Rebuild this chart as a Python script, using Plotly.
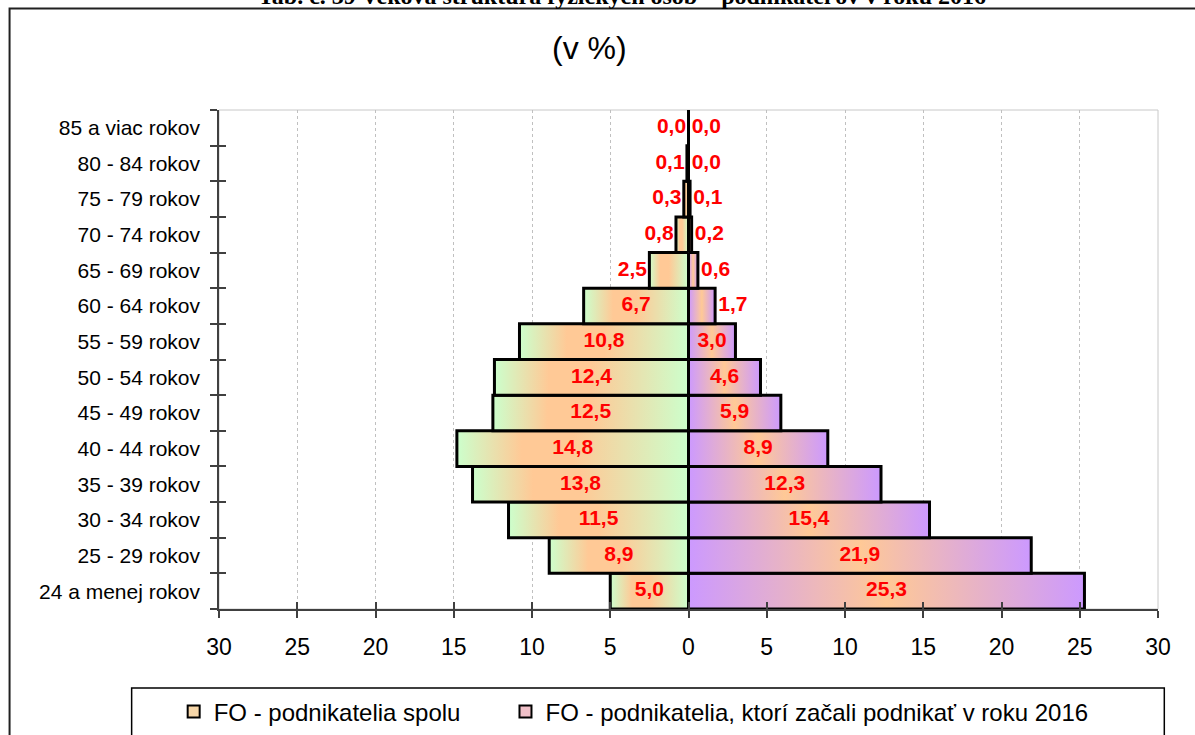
import plotly.graph_objects as go

# vekove kategorie (zdola nahor)
kategorie = [
    "24 a menej rokov", "25 - 29 rokov", "30 - 34 rokov", "35 - 39 rokov",
    "40 - 44 rokov", "45 - 49 rokov", "50 - 54 rokov", "55 - 59 rokov",
    "60 - 64 rokov", "65 - 69 rokov", "70 - 74 rokov", "75 - 79 rokov",
    "80 - 84 rokov", "85 a viac rokov",
]
spolu = [5.0, 8.9, 11.5, 13.8, 14.8, 12.5, 12.4, 10.8, 6.7, 2.5, 0.8, 0.3, 0.1, 0.0]
zacali_2016 = [25.3, 21.9, 15.4, 12.3, 8.9, 5.9, 4.6, 3.0, 1.7, 0.6, 0.2, 0.1, 0.0, 0.0]
x_ticks = [-30, -25, -20, -15, -10, -5, 0, 5, 10, 15, 20, 25, 30]

nazov_spolu = "FO - podnikatelia spolu"
nazov_2016 = "FO - podnikatelia, ktorí začali podnikať v roku 2016"

FONT = "Arial, Liberation Sans, sans-serif"
ZELENA, ORANZ, FIALOVA = "#ccffcc", "#ffc996", "#cc99ff"

# pixelove hranice plochy grafu
L, R, T, B = 219.3, 1157.7, 110, 609
W, H = 1195, 735


def px_x(p):
    return (p - L) / (R - L)


def px_y(p):
    return (B - p) / (B - T)


def ciarka(v):
    return f"{v:.1f}".replace(".", ",")


fig = go.Figure()

# stlpce ako polygony, aby mohli mat farebny prechod
for i, v in enumerate(spolu):
    fig.add_trace(go.Scatter(
        x=[0, -v, -v, 0, 0], y=[i - 0.5, i - 0.5, i + 0.5, i + 0.5, i - 0.5],
        mode="lines", fill="toself",
        line=dict(color="black", width=3),
        fillgradient=dict(type="horizontal",
                          colorscale=[[0, ZELENA], [0.28, ORANZ], [0.5, ORANZ], [1, ZELENA]]),
        showlegend=False, hoverinfo="skip",
    ))
for i, v in enumerate(zacali_2016):
    fig.add_trace(go.Scatter(
        x=[0, v, v, 0, 0], y=[i - 0.5, i - 0.5, i + 0.5, i + 0.5, i - 0.5],
        mode="lines", fill="toself",
        line=dict(color="black", width=3),
        fillgradient=dict(type="horizontal",
                          colorscale=[[0, FIALOVA], [0.5, ORANZ], [1, FIALOVA]]),
        showlegend=False, hoverinfo="skip",
    ))

# popisky hodnot
lx, lpos, rx, rpos = [], [], [], []
for v in spolu:
    if v >= 3:
        lx.append(-v / 2); lpos.append("middle center")
    else:
        lx.append(-v - 0.15); lpos.append("middle left")
for v in zacali_2016:
    if v >= 3:
        rx.append(v / 2); rpos.append("middle center")
    else:
        rx.append(v + 0.2); rpos.append("middle right")

lbl_font = dict(family=FONT, size=21, color="#ff0000", weight="bold")
fig.add_trace(go.Scatter(x=lx, y=list(range(len(spolu))), mode="text",
                         text=[ciarka(v) for v in spolu], textposition=lpos,
                         textfont=lbl_font, showlegend=False, cliponaxis=False))
fig.add_trace(go.Scatter(x=rx, y=list(range(len(zacali_2016))), mode="text",
                         text=[ciarka(v) for v in zacali_2016], textposition=rpos,
                         textfont=lbl_font, showlegend=False, cliponaxis=False))

# legenda (nezlomitelne medzery posunu druhu polozku doprava)
fig.add_trace(go.Scatter(x=[None], y=[None], mode="markers",
                         name=nazov_spolu + "\u00a0" * 6,
                         marker=dict(symbol="square", size=12, color="#f6d6a8",
                                     line=dict(color="black", width=2))))
fig.add_trace(go.Scatter(x=[None], y=[None], mode="markers", name=nazov_2016,
                         marker=dict(symbol="square", size=12, color="#f0c0c8",
                                     line=dict(color="black", width=2))))

# pomocna os pre vnutornu cast krizovych znaciek
fig.add_trace(go.Scatter(x=[None], y=[None], xaxis="x2", yaxis="y2",
                         showlegend=False, hoverinfo="skip"))

fig.update_layout(
    width=W, height=H,
    margin=dict(l=L, r=W - R, t=T, b=H - B, autoexpand=False),
    paper_bgcolor="white", plot_bgcolor="white",
    font=dict(family=FONT, color="black"),
    xaxis=dict(range=[-30, 30], tickvals=x_ticks, ticktext=[str(abs(t)) for t in x_ticks],
               showgrid=True, gridcolor="#c0c0c0", griddash="dot", gridwidth=1,
               zeroline=False, showline=True, linecolor="#404040", linewidth=1.5,
               ticks="outside", ticklen=7, tickcolor="#404040", tickwidth=1.5,
               tickfont=dict(size=23), ticklabelstandoff=10, fixedrange=True),
    yaxis=dict(range=[-0.5, len(kategorie) - 0.5], tickvals=list(range(len(kategorie))),
               ticktext=kategorie, showgrid=False, zeroline=False,
               showline=True, linecolor="#404040", linewidth=1.5,
               ticks="", tickfont=dict(size=21), ticklabelstandoff=13,
               minor=dict(tickvals=[k - 0.5 for k in range(len(kategorie) + 1)],
                          ticks="outside", ticklen=7, tickcolor="#404040", tickwidth=1.5,
                          showgrid=False),
               fixedrange=True),
    xaxis2=dict(overlaying="x", anchor="y2", range=[-30, 30], tickvals=x_ticks,
                showticklabels=False, showgrid=False, zeroline=False, showline=False,
                ticks="inside", ticklen=7, tickcolor="#404040", tickwidth=1.5),
    yaxis2=dict(overlaying="y", anchor="x2", range=[-0.5, len(kategorie) - 0.5],
                tickvals=[k - 0.5 for k in range(len(kategorie) + 1)],
                showticklabels=False, showgrid=False, zeroline=False, showline=False,
                ticks="inside", ticklen=7, tickcolor="#404040", tickwidth=1.5),
    legend=dict(orientation="h", x=px_x(174), xanchor="left", y=px_y(712), yanchor="middle",
                font=dict(size=24), bgcolor="rgba(0,0,0,0)",
                itemwidth=30, traceorder="normal"),
    showlegend=True,
    shapes=[
        # vonkajsi ramcek
        dict(type="rect", xref="paper", yref="paper", x0=px_x(10), x1=px_x(1300),
             y0=px_y(8.5), y1=px_y(900), line=dict(color="#202020", width=2), layer="below"),
        # okraj plochy grafu
        dict(type="rect", xref="paper", yref="paper", x0=0, x1=1, y0=0, y1=1,
             line=dict(color="#c8c8c8", width=1), layer="below"),
        # ramcek legendy
        dict(type="rect", xref="paper", yref="paper", x0=px_x(132), x1=px_x(1164),
             y0=px_y(688), y1=px_y(900), line=dict(color="black", width=1.5), layer="below"),
    ],
    annotations=[
        dict(text="(v %)", xref="paper", yref="paper", x=px_x(590), y=px_y(48),
             xanchor="center", yanchor="middle", showarrow=False,
             font=dict(size=32, family=FONT)),
        dict(text="Tab. č. 39 Veková štruktúra fyzických osôb – podnikateľov v roku 2016",
             xref="paper", yref="paper", x=px_x(988), y=px_y(11),
             xanchor="right", yanchor="bottom", showarrow=False,
             font=dict(size=24, family="Liberation Serif, Times New Roman, serif",
                       weight="bold")),
    ],
)

fig.write_html("out.html", config={"displayModeBar": False},
               post_script="document.body.style.margin = '0';")
